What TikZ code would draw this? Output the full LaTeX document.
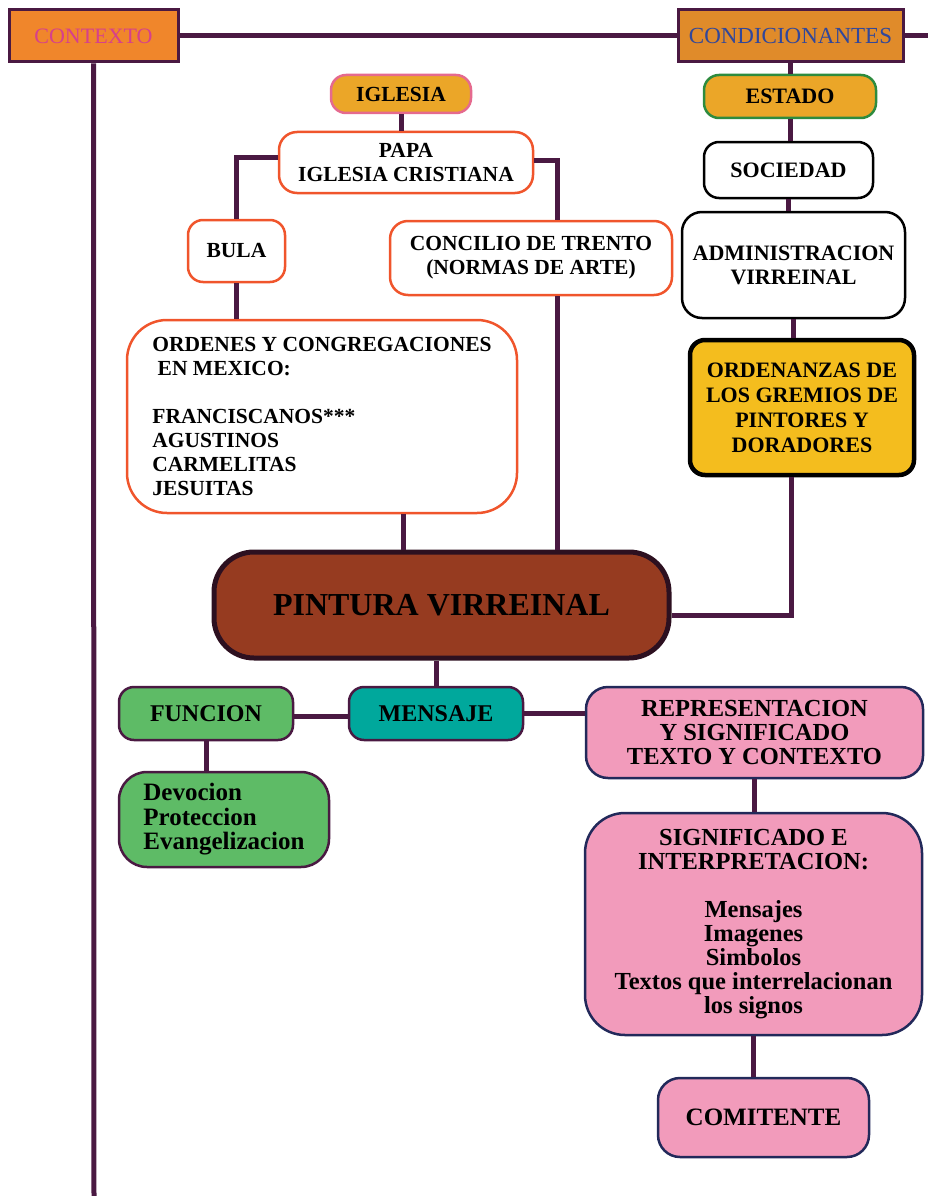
\documentclass[tikz,border=0pt]{standalone}
\usepackage{fontspec}
\setmainfont{Liberation Serif}
\usepackage{tikz}
\usetikzlibrary{shapes,shapes.misc}
\definecolor{linea}{HTML}{4A1942}
\definecolor{naranja}{HTML}{F0862B}
\definecolor{naranjaosc}{HTML}{E08B2A}
\definecolor{rosa}{HTML}{D6408C}
\definecolor{azul}{HTML}{31479B}
\definecolor{oro}{HTML}{EBA628}
\definecolor{rosaborde}{HTML}{E56A8E}
\definecolor{rojo}{HTML}{F0552C}
\definecolor{verdeosc}{HTML}{2E8B3E}
\definecolor{amarillo}{HTML}{F4BD1E}
\definecolor{cafe}{HTML}{963B20}
\definecolor{cafeosc}{HTML}{2D1020}
\definecolor{verde}{HTML}{5EBB66}
\definecolor{turquesa}{HTML}{00A89C}
\definecolor{rosaclaro}{HTML}{F29BBB}
\definecolor{marino}{HTML}{22295A}
\begin{document}
\begin{tikzpicture}[x=1pt, y=-1pt,
        every node/.append style={align=center, inner sep=0pt}]
      \tikzstyle{titulo} = [draw=linea, line width=3pt, minimum height=52pt, font=\fontsize{22}{24}\selectfont]
      \tikzstyle{caja} = [draw, line width=2.5pt, rounded corners=15pt, text=black, font=\bfseries\fontsize{21.5}{24}\selectfont]
      \tikzstyle{iglesiacaja} = [caja, draw=rojo, fill=white]
      \tikzstyle{estadocaja} = [caja, draw=black, fill=white, font=\bfseries\fontsize{22}{24}\selectfont]
      \tikzstyle{mensajecaja} = [caja, draw=linea, font=\bfseries\fontsize{24}{24}\selectfont]
      \tikzstyle{lecturacaja} = [caja, draw=marino, fill=rosaclaro, font=\bfseries\fontsize{24.5}{24}\selectfont]
      \tikzstyle{enlace} = [draw=linea, line width=5pt]
      \useasboundingbox (0,0) rectangle (928,1196);
      \node (contexto) [titulo, fill=naranja, text=rosa, minimum width=169pt] at (93.5,36) {CONTEXTO};
      \node (condicionantes) [titulo, fill=naranjaosc, text=azul, minimum width=225pt, font=\fontsize{23}{24}\selectfont] at (790.5,36) {CONDICIONANTES};
      \coordinate (margen) at (928,36);
      \coordinate (fondo) at (94,1196);
      \node (iglesia) [caja, draw=rosaborde, fill=oro, minimum width=140pt, minimum height=38pt] at (401,94) {IGLESIA};
      \node (papa) [iglesiacaja, rounded corners=18pt, minimum width=254pt, minimum height=61pt] at (406,162.5) {PAPA\\IGLESIA CRISTIANA};
      \node (bula) [iglesiacaja, minimum width=97pt, minimum height=62pt] at (236.5,251) {BULA};
      \node (concilio) [iglesiacaja, rounded corners=18pt, minimum width=282pt, minimum height=74pt] at (531,258) {CONCILIO DE TRENTO\\(NORMAS DE ARTE)};
      \node (ordenes) [iglesiacaja, align=left, rounded corners=40pt, minimum width=390pt, minimum height=193pt] at (322,416.5) {ORDENES Y CONGREGACIONES\\ \ EN MEXICO:\\[24pt]FRANCISCANOS***\\AGUSTINOS\\CARMELITAS\\JESUITAS};
      \node (estado) [caja, draw=verdeosc, fill=oro, minimum width=172pt, minimum height=43pt, font=\bfseries\fontsize{22}{24}\selectfont] at (790,96.5) {ESTADO};
      \node (sociedad) [estadocaja, minimum width=169pt, minimum height=56pt] at (788.5,170) {SOCIEDAD};
      \node (administracion) [estadocaja, rounded corners=20pt, minimum width=223pt, minimum height=106pt] at (793.5,265) {ADMINISTRACION\\VIRREINAL};
      \node (ordenanzas) [caja, draw=black, fill=amarillo, line width=4.5pt, minimum width=224pt, minimum height=135pt, font=\bfseries\fontsize{22}{25}\selectfont] at (802,407.5) {ORDENANZAS DE\\LOS GREMIOS DE\\PINTORES Y\\DORADORES};
      \node (pintura) [caja, draw=cafeosc, fill=cafe, line width=5pt, rounded corners=40pt, minimum width=455pt, minimum height=106pt, font=\bfseries\fontsize{32}{34}\selectfont] at (441.5,605) {PINTURA VIRREINAL};
      \node (funcion) [mensajecaja, fill=verde, minimum width=174pt, minimum height=53pt] at (206,713.5) {FUNCION};
      \node (mensaje) [mensajecaja, fill=turquesa, minimum width=174pt, minimum height=53pt] at (436,713.5) {MENSAJE};
      \node (devocion) [mensajecaja, fill=verde, align=left, rounded corners=28pt, minimum width=210pt, minimum height=95pt, font=\bfseries\fontsize{25}{24.5}\selectfont] at (224,819.5) {Devocion\\Proteccion\\Evangelizacion};
      \node (representacion) [lecturacaja, rounded corners=22pt, minimum width=337pt, minimum height=91pt] at (754.5,732.5) {REPRESENTACION\\Y SIGNIFICADO\\TEXTO Y CONTEXTO};
      \node (significado) [lecturacaja, rounded corners=40pt, minimum width=337pt, minimum height=222pt] at (753.5,924) {SIGNIFICADO E\\INTERPRETACION:\\[24pt]Mensajes\\Imagenes\\Simbolos\\Textos que interrelacionan\\los signos};
      \node (comitente) [lecturacaja, rounded corners=22pt, minimum width=211pt, minimum height=79pt, font=\bfseries\fontsize{25}{24}\selectfont] at (763.5,1117.5) {COMITENTE};
      \draw[enlace] (contexto.east) -- (condicionantes.west);
      \draw[enlace] (condicionantes.east) -- (margen);
      \draw[enlace] (contexto.south) -- (fondo);
      \draw[enlace] (iglesia.south) -- (iglesia.south |- papa.north);
      \draw[enlace] ([yshift=5pt]papa.west) -| (bula.north);
      \draw[enlace] ([yshift=2pt]papa.east) -| ([xshift=26pt]concilio.north);
      \draw[enlace] ([xshift=26pt]concilio.south) -- ([xshift=26pt]concilio.south |- pintura.north);
      \draw[enlace] (bula.south) -- (bula.south |- ordenes.north);
      \draw[enlace] ([xshift=81pt]ordenes.south) -- ([xshift=81pt]ordenes.south |- pintura.north);
      \draw[enlace] (condicionantes.south) -- (condicionantes.south |- estado.north);
      \draw[enlace] (estado.south) -- (estado.south |- sociedad.north);
      \draw[enlace] (sociedad.south) -- (sociedad.south |- administracion.north);
      \draw[enlace] (administracion.south) -- (administracion.south |- ordenanzas.north);
      \draw[enlace] ([xshift=-11pt]ordenanzas.south) |- ([yshift=-10pt]pintura.east);
      \draw[enlace] (mensaje.north |- pintura.south) -- (mensaje.north);
      \draw[enlace] ([yshift=-3pt]funcion.east) -- ([yshift=-3pt]mensaje.west);
      \draw[enlace] (mensaje.east) -- (mensaje.east -| representacion.west);
      \draw[enlace] (funcion.south) -- (funcion.south |- devocion.north);
      \draw[enlace] (representacion.south) -- (representacion.south |- significado.north);
      \draw[enlace] (significado.south) -- (significado.south |- comitente.north);
    \end{tikzpicture}
\end{document}
